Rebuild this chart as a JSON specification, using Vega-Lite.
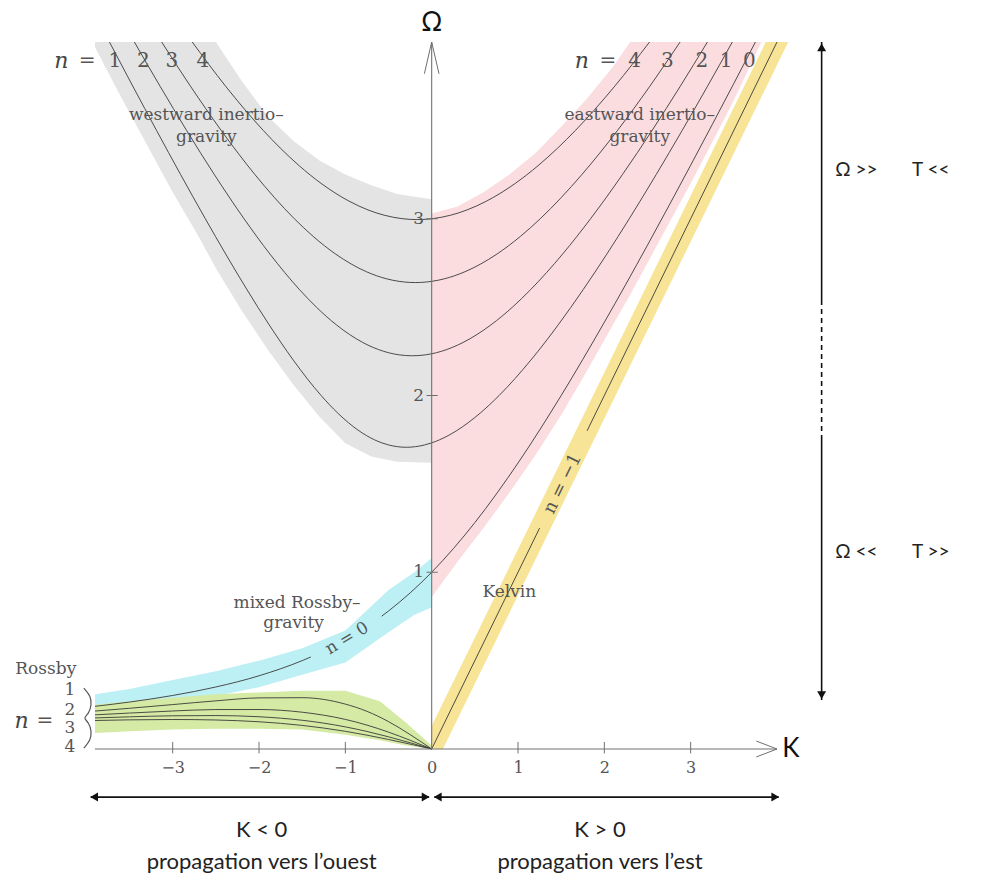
{
 "$schema": "https://vega.github.io/schema/vega-lite/v6.json",
 "width": 682, "height": 707,
 "autosize": {"type": "none"},
 "padding": {"left": 95, "top": 42, "right": 209, "bottom": 131},
 "background": "white",
 "config": {"view": {"stroke": null}},
 "datasets": {
  "bands": [
   {"band":"wig","k":-3.9,"w":3.97,"w2":4.0},{"band":"wig","k":-3.6,"w":3.69,"w2":4.0},{"band":"wig","k":-3.3,"w":3.42,"w2":4.0},{"band":"wig","k":-3.0,"w":3.15,"w2":4.0},{"band":"wig","k":-2.7,"w":2.9,"w2":4.0},{"band":"wig","k":-2.5,"w":2.72,"w2":4.0},{"band":"wig","k":-2.2,"w":2.48,"w2":3.78},{"band":"wig","k":-1.9,"w":2.26,"w2":3.58},{"band":"wig","k":-1.6,"w":2.06,"w2":3.44},{"band":"wig","k":-1.3,"w":1.88,"w2":3.33},{"band":"wig","k":-1.0,"w":1.73,"w2":3.25},{"band":"wig","k":-0.7,"w":1.655,"w2":3.19},{"band":"wig","k":-0.4,"w":1.625,"w2":3.14},{"band":"wig","k":0,"w":1.62,"w2":3.11},
   {"band":"eig","k":0,"w":0.86,"w2":3.03},{"band":"eig","k":0.3,"w":1.06,"w2":3.07},{"band":"eig","k":0.6,"w":1.25,"w2":3.15},{"band":"eig","k":0.9,"w":1.45,"w2":3.25},{"band":"eig","k":1.2,"w":1.66,"w2":3.37},{"band":"eig","k":1.5,"w":1.89,"w2":3.52},{"band":"eig","k":1.8,"w":2.14,"w2":3.68},{"band":"eig","k":2.1,"w":2.4,"w2":3.86},{"band":"eig","k":2.3,"w":2.57,"w2":4.0},{"band":"eig","k":2.7,"w":2.93,"w2":4.0},{"band":"eig","k":3.0,"w":3.2,"w2":4.0},{"band":"eig","k":3.3,"w":3.48,"w2":4.0},{"band":"eig","k":3.5,"w":3.67,"w2":4.0},{"band":"eig","k":3.8,"w":3.98,"w2":4.0},{"band":"eig","k":3.82,"w":4.0,"w2":4.0},
   {"band":"kelvin","k":0,"w":0,"w2":0.13},{"band":"kelvin","k":0.13,"w":0,"w2":0.26},{"band":"kelvin","k":1,"w":0.87,"w2":1.13},{"band":"kelvin","k":2,"w":1.87,"w2":2.13},{"band":"kelvin","k":3,"w":2.87,"w2":3.13},{"band":"kelvin","k":3.87,"w":3.74,"w2":4.0},{"band":"kelvin","k":4.13,"w":4.0,"w2":4.0},
   {"band":"mrg","k":-3.9,"w":0.22,"w2":0.31},{"band":"mrg","k":-3.5,"w":0.235,"w2":0.34},{"band":"mrg","k":-3.0,"w":0.265,"w2":0.39},{"band":"mrg","k":-2.5,"w":0.3,"w2":0.44},{"band":"mrg","k":-2.0,"w":0.35,"w2":0.5},{"band":"mrg","k":-1.5,"w":0.42,"w2":0.57},{"band":"mrg","k":-1.0,"w":0.49,"w2":0.67},{"band":"mrg","k":-0.5,"w":0.66,"w2":0.9},{"band":"mrg","k":-0.2,"w":0.76,"w2":1.0},{"band":"mrg","k":0,"w":0.8,"w2":1.08},
   {"band":"rossby","k":-3.9,"w":0.09,"w2":0.25},{"band":"rossby","k":-3.5,"w":0.1,"w2":0.27},{"band":"rossby","k":-3.0,"w":0.11,"w2":0.29},{"band":"rossby","k":-2.5,"w":0.115,"w2":0.31},{"band":"rossby","k":-2.0,"w":0.115,"w2":0.32},{"band":"rossby","k":-1.5,"w":0.11,"w2":0.33},{"band":"rossby","k":-1.0,"w":0.08,"w2":0.33},{"band":"rossby","k":-0.6,"w":0.05,"w2":0.27},{"band":"rossby","k":-0.3,"w":0.02,"w2":0.15},{"band":"rossby","k":0,"w":0,"w2":0.02}
  ],
  "curves": [
   {"c":"n1","k":-3.7327,"w":4.0},{"c":"n1","k":-3.462,"w":3.75},{"c":"n1","k":-3.1876,"w":3.5},{"c":"n1","k":-2.9082,"w":3.25},{"c":"n1","k":-2.6218,"w":3.0},{"c":"n1","k":-2.3858,"w":2.8},{"c":"n1","k":-2.1409,"w":2.6},{"c":"n1","k":-1.8827,"w":2.4},{"c":"n1","k":-1.6027,"w":2.2},{"c":"n1","k":-1.2808,"w":2.0},{"c":"n1","k":-1.0873,"w":1.9},{"c":"n1","k":-0.8409,"w":1.8},{"c":"n1","k":-0.6654,"w":1.75},{"c":"n1","k":-0.5774,"w":1.732},{"c":"n1","k":-0.4978,"w":1.72},{"c":"n1","k":-0.2929,"w":1.7071},{"c":"n1","k":-0.0836,"w":1.72},{"c":"n1","k":0,"w":1.732},{"c":"n1","k":0.0939,"w":1.75},{"c":"n1","k":0.2854,"w":1.8},{"c":"n1","k":0.561,"w":1.9},{"c":"n1","k":0.7808,"w":2.0},{"c":"n1","k":1.1481,"w":2.2},{"c":"n1","k":1.466,"w":2.4},{"c":"n1","k":1.7563,"w":2.6},{"c":"n1","k":2.0287,"w":2.8},{"c":"n1","k":2.2885,"w":3.0},{"c":"n1","k":2.6005,"w":3.25},{"c":"n1","k":2.9019,"w":3.5},{"c":"n1","k":3.1954,"w":3.75},{"c":"n1","k":3.4827,"w":4.0},
   {"c":"n2","k":-3.444,"w":4.0},{"c":"n2","k":-3.1467,"w":3.75},{"c":"n2","k":-2.8392,"w":3.5},{"c":"n2","k":-2.5174,"w":3.25},{"c":"n2","k":-2.1736,"w":3.0},{"c":"n2","k":-1.8732,"w":2.8},{"c":"n2","k":-1.5328,"w":2.6},{"c":"n2","k":-1.3358,"w":2.5},{"c":"n2","k":-1.1047,"w":2.4},{"c":"n2","k":-0.7981,"w":2.3},{"c":"n2","k":-0.5567,"w":2.25},{"c":"n2","k":-0.4472,"w":2.2361},{"c":"n2","k":-0.3764,"w":2.23},{"c":"n2","k":-0.2247,"w":2.2248},{"c":"n2","k":-0.072,"w":2.23},{"c":"n2","k":0,"w":2.2361},{"c":"n2","k":0.1123,"w":2.25},{"c":"n2","k":0.3634,"w":2.3},{"c":"n2","k":0.688,"w":2.4},{"c":"n2","k":0.9358,"w":2.5},{"c":"n2","k":1.1482,"w":2.6},{"c":"n2","k":1.5161,"w":2.8},{"c":"n2","k":1.8403,"w":3.0},{"c":"n2","k":2.2097,"w":3.25},{"c":"n2","k":2.5535,"w":3.5},{"c":"n2","k":2.88,"w":3.75},{"c":"n2","k":3.194,"w":4.0},
   {"c":"n3","k":-3.1276,"w":4.0},{"c":"n3","k":-2.7942,"w":3.75},{"c":"n3","k":-2.4386,"w":3.5},{"c":"n3","k":-2.0476,"w":3.25},{"c":"n3","k":-1.5907,"w":3.0},{"c":"n3","k":-1.3723,"w":2.9},{"c":"n3","k":-1.1123,"w":2.8},{"c":"n3","k":-0.7546,"w":2.7},{"c":"n3","k":-0.521,"w":2.66},{"c":"n3","k":-0.378,"w":2.6458},{"c":"n3","k":-0.3158,"w":2.642},{"c":"n3","k":-0.1895,"w":2.639},{"c":"n3","k":-0.0627,"w":2.642},{"c":"n3","k":0,"w":2.6458},{"c":"n3","k":0.1451,"w":2.66},{"c":"n3","k":0.3843,"w":2.7},{"c":"n3","k":0.7552,"w":2.8},{"c":"n3","k":1.0275,"w":2.9},{"c":"n3","k":1.2573,"w":3.0},{"c":"n3","k":1.7399,"w":3.25},{"c":"n3","k":2.1529,"w":3.5},{"c":"n3","k":2.5275,"w":3.75},{"c":"n3","k":2.8776,"w":4.0},
   {"c":"n4","k":-2.7737,"w":4.0},{"c":"n4","k":-2.3873,"w":3.75},{"c":"n4","k":-1.9513,"w":3.5},{"c":"n4","k":-1.7538,"w":3.4},{"c":"n4","k":-1.5346,"w":3.3},{"c":"n4","k":-1.2807,"w":3.2},{"c":"n4","k":-0.9588,"w":3.1},{"c":"n4","k":-0.7379,"w":3.05},{"c":"n4","k":-0.55,"w":3.02},{"c":"n4","k":-0.3333,"w":3.0},{"c":"n4","k":-0.1669,"w":2.9954},{"c":"n4","k":-0.041,"w":2.998},{"c":"n4","k":0,"w":3.0},{"c":"n4","k":0.2189,"w":3.02},{"c":"n4","k":0.41,"w":3.05},{"c":"n4","k":0.6362,"w":3.1},{"c":"n4","k":0.9682,"w":3.2},{"c":"n4","k":1.2316,"w":3.3},{"c":"n4","k":1.4597,"w":3.4},{"c":"n4","k":1.6656,"w":3.5},{"c":"n4","k":2.1206,"w":3.75},{"c":"n4","k":2.5237,"w":4.0},
   {"c":"n0a","k":-3.9,"w":0.2415},{"c":"n0a","k":-3.5,"w":0.2656},{"c":"n0a","k":-3.0,"w":0.3028},{"c":"n0a","k":-2.5,"w":0.3508},{"c":"n0a","k":-2.0,"w":0.4142},{"c":"n0a","k":-1.5,"w":0.5},{"c":"n0a","k":-1.4,"w":0.5207},
   {"c":"n0b","k":-0.58,"w":0.7512},{"c":"n0b","k":-0.5,"w":0.7808},{"c":"n0b","k":0,"w":1.0},{"c":"n0b","k":0.5,"w":1.2808},{"c":"n0b","k":1.0,"w":1.618},{"c":"n0b","k":1.5,"w":2.0},{"c":"n0b","k":2.0,"w":2.4142},{"c":"n0b","k":2.5,"w":2.8508},{"c":"n0b","k":3.0,"w":3.3028},{"c":"n0b","k":3.5,"w":3.7656},{"c":"n0b","k":3.75,"w":4.0},
   {"c":"ka","k":0,"w":0},{"c":"ka","k":1.25,"w":1.25},
   {"c":"kb","k":1.8,"w":1.8},{"c":"kb","k":3.0,"w":3.0},{"c":"kb","k":4.0,"w":4.0},
   {"c":"r1","k":-3.9,"w":0.2147},{"c":"r1","k":-3.5,"w":0.2303},{"c":"r1","k":-3.0,"w":0.2513},{"c":"r1","k":-2.5,"w":0.2724},{"c":"r1","k":-2.0,"w":0.2891},{"c":"r1","k":-1.5,"w":0.2904},{"c":"r1","k":-1.0,"w":0.254},{"c":"r1","k":-0.75,"w":0.2132},{"c":"r1","k":-0.5,"w":0.155},{"c":"r1","k":-0.25,"w":0.0816},{"c":"r1","k":0,"w":0},
   {"c":"r2","k":-3.9,"w":0.1933},{"c":"r2","k":-3.5,"w":0.2034},{"c":"r2","k":-3.0,"w":0.215},{"c":"r2","k":-2.5,"w":0.2232},{"c":"r2","k":-2.0,"w":0.2234},{"c":"r2","k":-1.5,"w":0.2081},{"c":"r2","k":-1.0,"w":0.1674},{"c":"r2","k":-0.75,"w":0.1353},{"c":"r2","k":-0.5,"w":0.0954},{"c":"r2","k":-0.25,"w":0.0494},{"c":"r2","k":0,"w":0},
   {"c":"r3","k":-3.9,"w":0.1758},{"c":"r3","k":-3.5,"w":0.1821},{"c":"r3","k":-3.0,"w":0.1879},{"c":"r3","k":-2.5,"w":0.1892},{"c":"r3","k":-2.0,"w":0.1824},{"c":"r3","k":-1.5,"w":0.1626},{"c":"r3","k":-1.0,"w":0.1252},{"c":"r3","k":-0.75,"w":0.0992},{"c":"r3","k":-0.5,"w":0.069},{"c":"r3","k":-0.25,"w":0.0354},{"c":"r3","k":0,"w":0},
   {"c":"r4","k":-3.9,"w":0.1613},{"c":"r4","k":-3.5,"w":0.1649},{"c":"r4","k":-3.0,"w":0.1669},{"c":"r4","k":-2.5,"w":0.1641},{"c":"r4","k":-2.0,"w":0.1541},{"c":"r4","k":-1.5,"w":0.1335},{"c":"r4","k":-1.0,"w":0.1001},{"c":"r4","k":-0.75,"w":0.0784},{"c":"r4","k":-0.5,"w":0.0541},{"c":"r4","k":-0.25,"w":0.0276},{"c":"r4","k":0,"w":0}
  ],
  "axes": [{"k":-3.9,"w":0,"k2":4.0,"w2":0},{"k":0,"w":0,"k2":0,"w2":4.0}],
  "ticks": [
   {"k":-3,"w":-0.025,"k2":-3,"w2":0.04},{"k":-2,"w":-0.025,"k2":-2,"w2":0.04},{"k":-1,"w":-0.025,"k2":-1,"w2":0.04},{"k":1,"w":-0.025,"k2":1,"w2":0.04},{"k":2,"w":-0.025,"k2":2,"w2":0.04},{"k":3,"w":-0.025,"k2":3,"w2":0.04},
   {"k":-0.06,"w":1,"k2":0.07,"w2":1},{"k":-0.06,"w":2,"k2":0.07,"w2":2},{"k":-0.06,"w":3,"k2":0.07,"w2":3}
  ],
  "chev": [
   {"id":"x","i":0,"k":3.76,"w":0.045},{"id":"x","i":1,"k":4.0,"w":0},{"id":"x","i":2,"k":3.76,"w":-0.045},
   {"id":"y","i":0,"k":-0.085,"w":3.82},{"id":"y","i":1,"k":0,"w":4.0},{"id":"y","i":2,"k":0.085,"w":3.82}
  ],
  "brace": [
   {"i":0,"k":-4.03,"w":0.345},{"i":1,"k":-3.95,"w":0.3},{"i":2,"k":-3.94,"w":0.25},{"i":3,"k":-3.97,"w":0.2},{"i":4,"k":-4.04,"w":0.175},{"i":5,"k":-3.97,"w":0.15},{"i":6,"k":-3.94,"w":0.1},{"i":7,"k":-3.95,"w":0.05},{"i":8,"k":-4.03,"w":0.005}
  ],
  "solidArrows": [
   {"k":4.517,"w":4.0,"k2":4.517,"w2":2.54},{"k":4.517,"w":1.777,"k2":4.517,"w2":0.277},
   {"k":-3.95,"w":-0.272,"k2":-0.03,"w2":-0.272},{"k":0.03,"w":-0.272,"k2":4.02,"w2":-0.272}
  ],
  "dashedArrows": [{"k":4.517,"w":2.54,"k2":4.517,"w2":1.777}],
  "heads": [
   {"dir":"up","k":4.517,"w":3.97},{"dir":"down","k":4.517,"w":0.305},
   {"dir":"left","k":-3.91,"w":-0.272},{"dir":"right","k":-0.07,"w":-0.272},
   {"dir":"left","k":0.07,"w":-0.272},{"dir":"right","k":3.98,"w":-0.272}
  ],
  "serifLabels": [
   {"t":"westward inertio–","k":-2.61,"w":3.588},{"t":"gravity","k":-2.61,"w":3.463},
   {"t":"eastward inertio–","k":2.41,"w":3.588},{"t":"gravity","k":2.41,"w":3.463},
   {"t":"mixed Rossby–","k":-1.56,"w":0.826},{"t":"gravity","k":-1.6,"w":0.713},
   {"t":"Kelvin","k":0.9,"w":0.89},{"t":"Rossby","k":-4.47,"w":0.453}
  ],
  "bigNums": [
   {"t":"=","k":-3.99,"w":3.89},{"t":"1","k":-3.67,"w":3.89},{"t":"2","k":-3.34,"w":3.89},{"t":"3","k":-3.01,"w":3.89},{"t":"4","k":-2.65,"w":3.89},
   {"t":"=","k":2.04,"w":3.89},{"t":"4","k":2.35,"w":3.89},{"t":"3","k":2.73,"w":3.89},{"t":"2","k":3.13,"w":3.89},{"t":"1","k":3.41,"w":3.89},{"t":"0","k":3.68,"w":3.89},
   {"t":"=","k":-4.48,"w":0.158}
  ],
  "smallNums": [
   {"t":"1","k":-4.19,"w":0.334},{"t":"2","k":-4.19,"w":0.221},{"t":"3","k":-4.19,"w":0.119},{"t":"4","k":-4.19,"w":0.011},
   {"t":"1","k":-0.15,"w":1},{"t":"2","k":-0.15,"w":2},{"t":"3","k":-0.15,"w":3}
  ],
  "italN": [{"t":"n","k":-4.29,"w":3.89},{"t":"n","k":1.74,"w":3.89},{"t":"n","k":-4.75,"w":0.158}],
  "mrgLabel": [{"t":"n = 0","k":-0.98,"w":0.625}],
  "kelvinLabel": [{"t":"n = −1","k":1.52,"w":1.5}],
  "axisTitles": [{"t":"Ω","k":0,"w":4.106},{"t":"K","k":4.16,"w":0.0}],
  "sideLabels": [
   {"t":"Ω >>","k":4.92,"w":3.277},{"t":"T <<","k":5.78,"w":3.277},
   {"t":"Ω <<","k":4.92,"w":1.115},{"t":"T >>","k":5.78,"w":1.115}
  ],
  "bottomLabels": [
   {"t":"K < 0","k":-1.97,"w":-0.458},{"t":"propagation vers l’ouest","k":-1.97,"w":-0.64},
   {"t":"K > 0","k":1.95,"w":-0.458},{"t":"propagation vers l’est","k":1.95,"w":-0.64}
  ]
 },
 "encoding": {
  "x": {"field":"k","type":"quantitative","scale":{"domain":[-3.9,4.0],"nice":false,"zero":false},
        "axis":{"values":[-3,-2,-1,0,1,2,3],"domain":false,"grid":false,"ticks":false,"tickSize":0,"labelPadding":10,"labelFlush":false,"labelFont":"DejaVu Serif","labelFontSize":16,"labelColor":"#555555","title":null,
                "labelExpr":"datum.value < 0 ? '−' + (-datum.value) : '' + datum.value"}},
  "y": {"field":"w","type":"quantitative","scale":{"domain":[0,4.0],"nice":false,"zero":false},"axis":null}
 },
 "layer": [
  {"data":{"name":"bands"},"mark":{"type":"area","opacity":1},
   "encoding":{"y2":{"field":"w2"},
    "color":{"field":"band","type":"nominal","legend":null,
     "scale":{"domain":["wig","eig","kelvin","mrg","rossby"],"range":["#e4e4e4","#fbdde0","#f7e496","#bdf0f4","#d5eaa4"]}}}},
  {"data":{"name":"curves"},"mark":{"type":"line","interpolate":"monotone","stroke":"#3a3a3a","strokeWidth":0.9},
   "encoding":{"detail":{"field":"c","type":"nominal"}}},
  {"data":{"name":"axes"},"mark":{"type":"rule","stroke":"#707070","strokeWidth":1.1},
   "encoding":{"x2":{"field":"k2"},"y2":{"field":"w2"}}},
  {"data":{"name":"ticks"},"mark":{"type":"rule","stroke":"#707070","strokeWidth":1},
   "encoding":{"x2":{"field":"k2"},"y2":{"field":"w2"}}},
  {"data":{"name":"chev"},"mark":{"type":"line","stroke":"#707070","strokeWidth":1},
   "encoding":{"detail":{"field":"id","type":"nominal"},"order":{"field":"i","type":"quantitative"}}},
  {"data":{"name":"brace"},"mark":{"type":"line","interpolate":"basis","stroke":"#555555","strokeWidth":1.2},
   "encoding":{"order":{"field":"i","type":"quantitative"}}},
  {"data":{"name":"solidArrows"},"mark":{"type":"rule","stroke":"#111111","strokeWidth":1.6},
   "encoding":{"x2":{"field":"k2"},"y2":{"field":"w2"}}},
  {"data":{"name":"dashedArrows"},"mark":{"type":"rule","stroke":"#111111","strokeWidth":1.6,"strokeDash":[5,4]},
   "encoding":{"x2":{"field":"k2"},"y2":{"field":"w2"}}},
  {"data":{"name":"heads"},"mark":{"type":"point","filled":true,"fill":"#111111","stroke":null,"size":80,"opacity":1},
   "encoding":{"shape":{"field":"dir","type":"nominal","legend":null,
     "scale":{"domain":["up","down","left","right"],"range":["triangle-up","triangle-down","triangle-left","triangle-right"]}}}},
  {"data":{"name":"serifLabels"},"mark":{"type":"text","font":"DejaVu Serif","fontSize":17,"fill":"#555555"},
   "encoding":{"text":{"field":"t"}}},
  {"data":{"name":"bigNums"},"mark":{"type":"text","font":"DejaVu Serif","fontSize":20,"fill":"#555555"},
   "encoding":{"text":{"field":"t"}}},
  {"data":{"name":"smallNums"},"mark":{"type":"text","font":"DejaVu Serif","fontSize":17,"fill":"#555555"},
   "encoding":{"text":{"field":"t"}}},
  {"data":{"name":"italN"},"mark":{"type":"text","font":"DejaVu Serif","fontSize":22,"fontStyle":"italic","fill":"#444444"},
   "encoding":{"text":{"field":"t"}}},
  {"data":{"name":"mrgLabel"},"mark":{"type":"text","font":"DejaVu Serif","fontSize":17,"fill":"#555555","angle":329},
   "encoding":{"text":{"field":"t"}}},
  {"data":{"name":"kelvinLabel"},"mark":{"type":"text","font":"DejaVu Serif","fontSize":18,"fill":"#555555","angle":296},
   "encoding":{"text":{"field":"t"}}},
  {"data":{"name":"axisTitles"},"mark":{"type":"text","font":"Lato","fontSize":26,"fill":"#111111"},
   "encoding":{"text":{"field":"t"}}},
  {"data":{"name":"sideLabels"},"mark":{"type":"text","font":"Lato","fontSize":19,"fill":"#222222"},
   "encoding":{"text":{"field":"t"}}},
  {"data":{"name":"bottomLabels"},"mark":{"type":"text","font":"Lato","fontSize":22,"fill":"#222222"},
   "encoding":{"text":{"field":"t"}}}
 ]
}
